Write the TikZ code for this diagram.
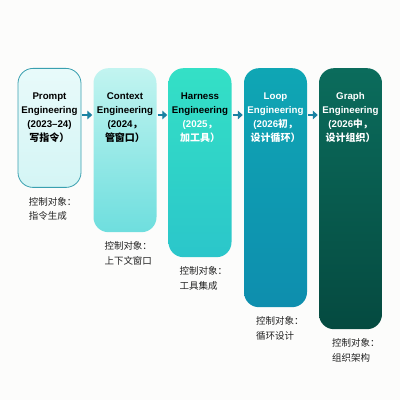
\documentclass[tikz,border=0pt]{standalone}
\usepackage{fontspec}
\setmainfont{Liberation Sans}
\newfontfamily\cjk{Noto Sans CJK SC}
\usetikzlibrary{arrows.meta}
\definecolor{arrowc}{HTML}{1A82A2}
\definecolor{bgc}{HTML}{FCFCFB}
\definecolor{c1t}{HTML}{E8FAFA}
\definecolor{c1b}{HTML}{D4F5F5}
\definecolor{c1d}{HTML}{3AA0B0}
\definecolor{c2t}{HTML}{C2F4F0}
\definecolor{c2b}{HTML}{6EDEDE}
\definecolor{c3t}{HTML}{34E0C6}
\definecolor{c3b}{HTML}{2BC6CA}
\definecolor{c4t}{HTML}{0FA6B4}
\definecolor{c4b}{HTML}{0E8EAE}
\definecolor{c5t}{HTML}{0B6C5C}
\definecolor{c5b}{HTML}{054A40}
\definecolor{labc}{HTML}{222222}
\begin{document}
\begin{tikzpicture}[x=1pt,y=1pt,
  bar/.style={rounded corners=15pt, minimum width=63pt, inner sep=0pt, anchor=north},
  head/.style={minimum width=63pt, inner sep=0pt, align=center, font=\fontsize{9.7}{14}\selectfont\bfseries},
  lab/.style={anchor=north west, inner sep=0pt, align=left, font=\fontsize{9.5}{14.5}\selectfont\cjk, text=labc},
  arr/.style={-{Triangle[length=5pt,width=8.5pt]}, line width=2.6pt, draw=arrowc, shorten <=1pt, shorten >=1pt}
]
\useasboundingbox (0,0) rectangle (400,400);
\fill[bgc] (0,0) rectangle (400,400);

\node[bar, minimum height=119pt, top color=c1t, bottom color=c1b, draw=c1d, line width=0.8pt] (b1) at (49.5,332) {};
\node[bar, minimum height=164pt, top color=c2t, bottom color=c2b] (b2) at (125,332) {};
\node[bar, minimum height=189pt, top color=c3t, bottom color=c3b] (b3) at (200,332) {};
\node[bar, minimum height=239pt, top color=c4t, bottom color=c4b] (b4) at (275.5,332) {};
\node[bar, minimum height=261pt, top color=c5t, bottom color=c5b] (b5) at (350.5,332) {};

\node[head, text=black] (h1) at (49.5,282) {Prompt\\Engineering\\(2023–24)\\{\cjk\fontsize{10}{14}\selectfont\bfseries 写指令）}};
\node[head, text=black] (h2) at (125,282) {Context\\Engineering\\(2024{\cjk ，}\\{\cjk\fontsize{10}{14}\selectfont\bfseries 管窗口）}};
\node[head, text=white] (h3) at (200,282) {\textcolor{black}{Harness}\\\textcolor{black}{Engineering}\\(2025{\cjk ，}\\{\cjk\fontsize{10}{14}\selectfont\bfseries 加工具）}};
\node[head, text=white] (h4) at (275.5,282) {Loop\\Engineering\\(2026{\cjk\bfseries 初，}\\{\cjk\fontsize{10}{14}\selectfont\bfseries 设计循环）}};
\node[head, text=white] (h5) at (350.5,282) {Graph\\Engineering\\(2026{\cjk\bfseries 中，}\\{\cjk\fontsize{10}{14}\selectfont\bfseries 设计组织）}};

\draw[arr] ([yshift=3pt]h1.east) -- ([yshift=3pt]h2.west);
\draw[arr] ([yshift=3pt]h2.east) -- ([yshift=3pt]h3.west);
\draw[arr] ([yshift=3pt]h3.east) -- ([yshift=3pt]h4.west);
\draw[arr] ([yshift=3pt]h4.east) -- ([yshift=3pt]h5.west);

\node[lab] (l1) at ([xshift=11pt,yshift=-9pt]b1.south west) {控制对象：\\指令生成};
\node[lab] (l2) at ([xshift=11pt,yshift=-9pt]b2.south west) {控制对象：\\上下文窗口};
\node[lab] (l3) at ([xshift=11pt,yshift=-9pt]b3.south west) {控制对象：\\工具集成};
\node[lab] (l4) at ([xshift=12pt,yshift=-9pt]b4.south west) {控制对象：\\循环设计};
\node[lab] (l5) at ([xshift=13pt,yshift=-9pt]b5.south west) {控制对象：\\组织架构};
\end{tikzpicture}
\end{document}
